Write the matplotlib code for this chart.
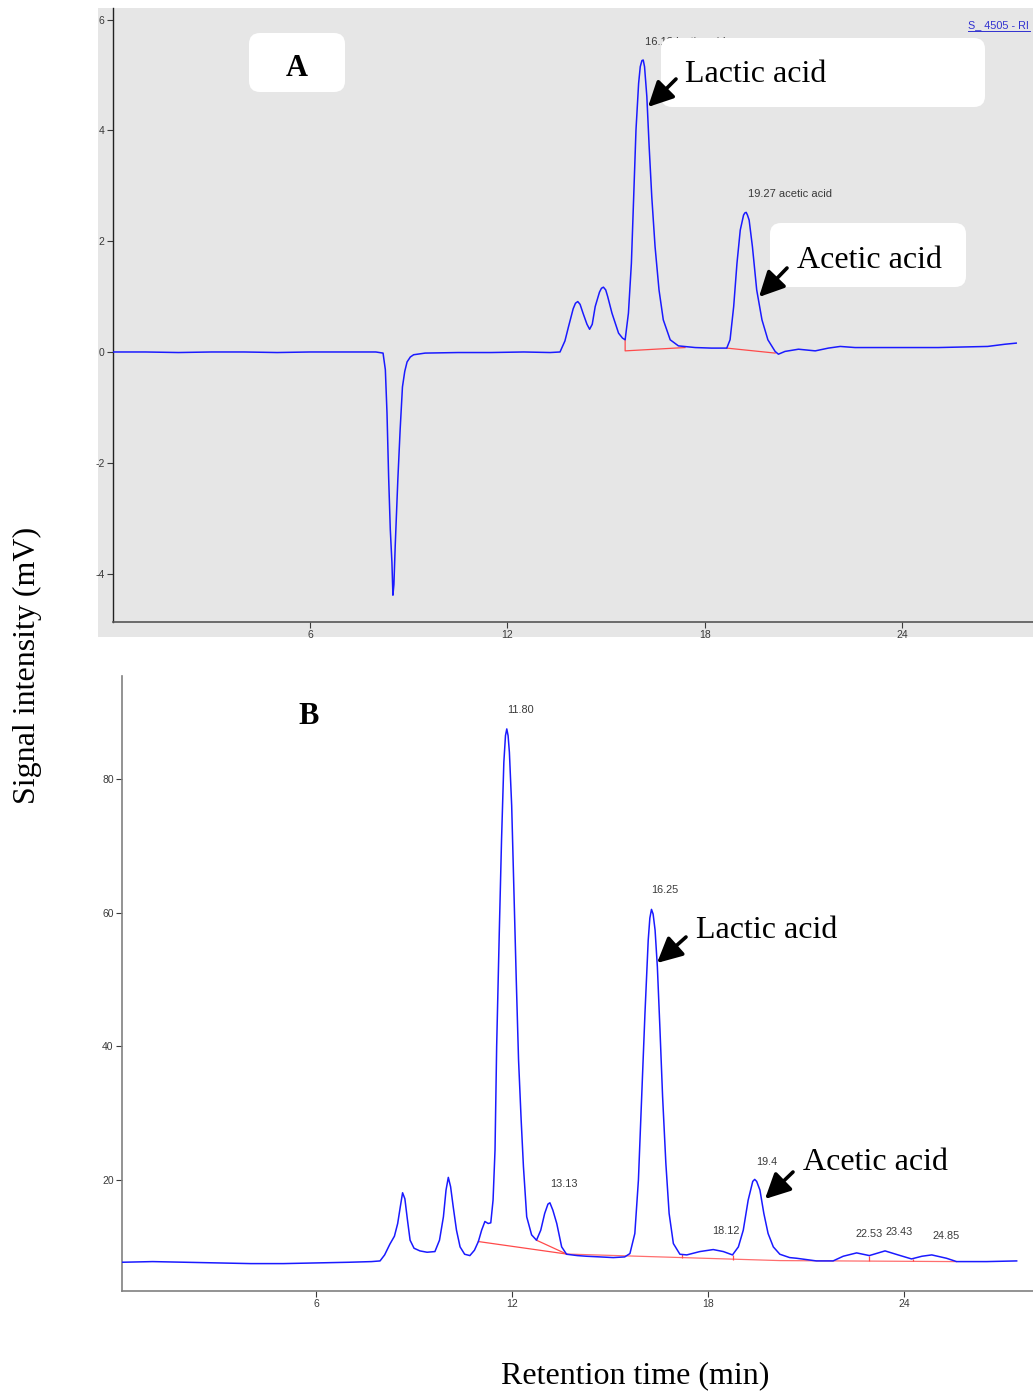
import matplotlib
matplotlib.use('Agg')
import matplotlib.pyplot as plt
from matplotlib.patches import FancyBboxPatch, Rectangle, FancyArrowPatch
from matplotlib.lines import Line2D
from matplotlib.transforms import IdentityTransform

plt.rcParams['axes.unicode_minus'] = False

# ---------------- data ----------------
# Panel A chromatogram: retention time (min) / signal (mV)
a_time = [0.0, 1.0, 2.0, 3.0, 4.0, 5.0, 6.0, 7.0, 8.0, 8.22, 8.29, 8.34, 8.39, 8.44, 8.49,
          8.52, 8.55, 8.59, 8.67, 8.74, 8.81, 8.88, 8.95, 9.05, 9.15, 9.5, 10.5, 11.5,
          12.5, 13.3, 13.6, 13.75, 13.86, 14.0, 14.07, 14.14, 14.21, 14.3, 14.42, 14.5,
          14.58, 14.67, 14.8, 14.86, 14.92, 14.99, 15.05, 15.18, 15.38, 15.5, 15.58,
          15.68, 15.77, 15.84, 15.91, 15.99, 16.04, 16.09, 16.13, 16.17, 16.24, 16.31,
          16.39, 16.49, 16.61, 16.74, 16.95, 17.2, 17.71, 18.2, 18.67, 18.77, 18.88,
          18.98, 19.08, 19.18, 19.22, 19.26, 19.3, 19.35, 19.45, 19.58, 19.74, 19.92,
          20.14, 20.24, 20.44, 20.85, 21.36, 21.76, 22.12, 22.57, 23.59, 25.1, 26.6,
          27.13, 27.47]
a_signal = [0.0, 0.0, -0.01, 0.0, 0.0, -0.01, 0.0, 0.0, 0.0, -0.02, -0.32, -1.1, -2.26,
            -3.2, -3.8, -4.39, -4.2, -3.5, -2.3, -1.4, -0.63, -0.35, -0.18, -0.09, -0.05,
            -0.02, -0.01, -0.01, 0.0, -0.01, 0.0, 0.2, 0.46, 0.78, 0.88, 0.91, 0.86, 0.7,
            0.5, 0.41, 0.5, 0.82, 1.08, 1.15, 1.17, 1.12, 1.0, 0.7, 0.34, 0.25, 0.22, 0.7,
            1.6, 2.8, 4.01, 4.85, 5.15, 5.26, 5.27, 5.15, 4.61, 3.71, 2.8, 1.9, 1.12,
            0.58, 0.22, 0.11, 0.08, 0.07, 0.07, 0.22, 0.82, 1.6, 2.2, 2.47, 2.51, 2.52,
            2.47, 2.38, 1.9, 1.12, 0.58, 0.22, 0.01, -0.04, 0.01, 0.05, 0.02, 0.07, 0.1,
            0.08, 0.08, 0.08, 0.1, 0.14, 0.16]
# Panel A integration baselines
a_base1_time = [15.58, 15.58, 17.4]
a_base1_sig = [0.22, 0.02, 0.08]
a_base2_time = [18.67, 20.14]
a_base2_sig = [0.07, -0.02]

# Panel B chromatogram
b_time = [0.05, 1.0, 2.0, 3.0, 4.0, 5.0, 6.0, 7.0, 7.7, 7.96, 8.1, 8.26, 8.4, 8.5, 8.58,
          8.65, 8.72, 8.8, 8.88, 9.0, 9.18, 9.4, 9.64, 9.78, 9.9, 9.98, 10.05, 10.12,
          10.2, 10.3, 10.41, 10.55, 10.71, 10.85, 10.97, 11.07, 11.17, 11.27, 11.35,
          11.42, 11.48, 11.53, 11.61, 11.68, 11.75, 11.8, 11.84, 11.88, 11.92, 11.99,
          12.06, 12.13, 12.2, 12.28, 12.35, 12.45, 12.6, 12.75, 12.88, 13.0, 13.1,
          13.16, 13.25, 13.37, 13.52, 13.67, 14.0, 14.28, 14.7, 15.1, 15.45, 15.61,
          15.76, 15.87, 15.97, 16.07, 16.17, 16.22, 16.27, 16.32, 16.38, 16.45, 16.53,
          16.61, 16.71, 16.81, 16.94, 17.14, 17.35, 17.75, 18.16, 18.47, 18.75, 18.93,
          19.08, 19.23, 19.37, 19.43, 19.49, 19.59, 19.71, 19.84, 20.0, 20.2, 20.5,
          20.71, 21.32, 21.83, 22.14, 22.55, 22.94, 23.42, 23.82, 24.23, 24.55, 24.85,
          25.3, 25.61, 26.53, 27.45]
b_signal = [7.7, 7.8, 7.7, 7.6, 7.5, 7.5, 7.6, 7.7, 7.8, 7.9, 8.8, 10.4, 11.6, 13.5, 16.0,
            18.1, 17.2, 14.0, 11.0, 9.8, 9.4, 9.2, 9.3, 11.0, 14.5, 18.5, 20.4, 19.0,
            16.0, 12.5, 10.0, 8.9, 8.7, 9.5, 10.8, 12.5, 13.8, 13.5, 13.6, 17.0, 24.5,
            40.0, 57.0, 71.0, 82.5, 86.5, 87.5, 86.5, 84.0, 76.0, 63.0, 50.0, 38.0, 29.0,
            22.0, 14.5, 11.8, 11.0, 12.5, 15.0, 16.4, 16.6, 15.5, 13.5, 10.0, 8.9, 8.7,
            8.6, 8.5, 8.4, 8.5, 9.0, 12.0, 20.0, 32.5, 44.9, 55.9, 59.2, 60.5, 59.8, 57.4,
            51.9, 42.5, 32.5, 22.5, 15.0, 10.5, 8.9, 8.8, 9.3, 9.6, 9.3, 8.8, 10.0, 12.5,
            17.0, 19.8, 20.1, 19.8, 18.5, 15.0, 12.0, 10.0, 8.9, 8.4, 8.3, 7.9, 7.9, 8.6,
            9.1, 8.7, 9.4, 8.8, 8.2, 8.6, 8.8, 8.3, 7.8, 7.8, 7.9]
# Panel B integration baselines
b_base1_time = [10.97, 13.67]
b_base1_sig = [10.8, 8.93]
b_base2_time = [12.75, 13.67]
b_base2_sig = [11.0, 8.93]
b_base3_time = [13.67, 20.2, 25.6]
b_base3_sig = [8.93, 7.95, 7.8]
b_drop_time = [17.2, 18.76, 22.93, 24.28]
b_drop_low = [8.35, 8.05, 7.85, 7.82]
b_drop_high = [8.9, 8.8, 8.7, 8.2]

a_yticks = [-4, -2, 0, 2, 4, 6]
b_yticks = [20, 40, 60, 80]
x_ticks = [6, 12, 18, 24]

b_peak_labels = ['11.80', '16.25', '13.13', '18.12', '19.4', '22.53', '23.43', '24.85']

# ---------------- figure ----------------
W, H = 1033, 1392
fig = plt.figure(figsize=(W / 100, H / 100), dpi=100)
ID = IdentityTransform()


def fx(x):
    return x / W


def fy(y):
    return 1 - y / H


def px(x, y):
    return (x, H - y)


BLUE = '#1a1aff'
RED = '#ff4a4a'
TICKC = '#3a3a3a'
SANS = 'Liberation Sans'
SERIF = 'Liberation Serif'

# gray panel background of A
fig.add_artist(Rectangle(px(98, 637), 1033 - 98, 637 - 8, transform=ID,
                         facecolor='#e6e6e6', edgecolor='none', zorder=-5))

# ---- Axes A
axA = fig.add_axes([fx(113), fy(622), fx(1033) - fx(113), fy(8) - fy(622)])
axA.set_facecolor('none')
axA.plot(a_time, a_signal, color=BLUE, lw=1.1, zorder=3)
axA.plot(a_base1_time, a_base1_sig, color=RED, lw=0.9, zorder=2)
axA.plot(a_base2_time, a_base2_sig, color=RED, lw=0.9, zorder=2)
axA.set_xlim(0.01, 27.98)
axA.set_ylim(-4.874, 6.209)
axA.set_yticks(a_yticks)
axA.set_yticklabels([str(v) for v in a_yticks])
axA.set_xticks(x_ticks)
axA.set_xticklabels([str(v) for v in x_ticks])
for s in ['top', 'right']:
    axA.spines[s].set_visible(False)
axA.spines['left'].set_color('#222222')
axA.spines['bottom'].set_color('#555555')
axA.spines['left'].set_linewidth(1.0)
axA.spines['bottom'].set_linewidth(1.2)
axA.tick_params(direction='out', length=4, width=0.8, colors=TICKC, labelsize=7.5, pad=2)
for lab in axA.get_xticklabels() + axA.get_yticklabels():
    lab.set_fontfamily(SANS)

# ---- Axes B
axB = fig.add_axes([fx(122), fy(1291), fx(1033) - fx(122), fy(676) - fy(1291)])
axB.set_facecolor('none')
axB.plot(b_time, b_signal, color=BLUE, lw=1.1, zorder=3)
axB.plot(b_base1_time, b_base1_sig, color=RED, lw=0.9, zorder=2)
axB.plot(b_base2_time, b_base2_sig, color=RED, lw=0.9, zorder=2)
axB.plot(b_base3_time, b_base3_sig, color=RED, lw=0.9, alpha=0.8, zorder=2)
axB.vlines(b_drop_time, b_drop_low, b_drop_high, color=RED, lw=0.9, zorder=2)
axB.set_xlim(0.06, 27.95)
axB.set_ylim(3.40, 95.42)
axB.set_yticks(b_yticks)
axB.set_yticklabels([str(v) for v in b_yticks])
axB.set_xticks(x_ticks)
axB.set_xticklabels([str(v) for v in x_ticks])
for s in ['top', 'right']:
    axB.spines[s].set_visible(False)
axB.spines['left'].set_color('#808080')
axB.spines['bottom'].set_color('#808080')
axB.spines['left'].set_linewidth(1.2)
axB.spines['bottom'].set_linewidth(1.2)
axB.tick_params(direction='out', length=4, width=0.8, colors=TICKC, labelsize=7.5, pad=2)
for lab in axB.get_xticklabels() + axB.get_yticklabels():
    lab.set_fontfamily(SANS)

# ---- peak labels (small, under the callout boxes)
fig.text(fx(645), fy(42), '16.13 lactic acid', fontsize=8, family=SANS, color=TICKC,
         ha='left', va='center', zorder=2)
fig.text(fx(748), fy(194), '19.27 acetic acid', fontsize=8, family=SANS, color=TICKC,
         ha='left', va='center', zorder=2)
b_label_pos = [(520, 710), (665, 890), (564, 1184), (726, 1231), (767, 1162),
               (869, 1234), (899, 1232), (946, 1236)]
for txt, (x, y) in zip(b_peak_labels, b_label_pos):
    fig.text(fx(x), fy(y), txt, fontsize=7.8, family=SANS, color=TICKC,
             ha='center', va='center', zorder=2)

# "S_ 4505 - RI" link-like tag
fig.text(fx(968), fy(25), 'S_ 4505 - RI', fontsize=7.8, family=SANS, color='#3030d0',
         ha='left', va='center', zorder=2)
fig.add_artist(Line2D([968, 1030], [H - 31, H - 31], transform=ID, color='#3030d0', lw=0.7))


# ---- rounded white callout boxes
def rbox(x0, y0, x1, y1):
    fig.add_artist(FancyBboxPatch(px(x0, y1), x1 - x0, y1 - y0,
                                  boxstyle='round,pad=0,rounding_size=11',
                                  transform=ID, facecolor='white', edgecolor='none',
                                  zorder=4))


rbox(249, 33, 345, 92)
rbox(661, 38, 985, 107)
rbox(770, 223, 966, 287)

# ---- big texts
fig.text(fx(297), fy(68), 'A', fontsize=22, family=SERIF, weight='bold', ha='center',
         va='center', zorder=5)
fig.text(fx(309), fy(717), 'B', fontsize=22, family=SERIF, weight='bold', ha='center',
         va='center', zorder=5)
fig.text(fx(685), fy(75), 'Lactic acid', fontsize=23, family=SERIF, ha='left', va='center',
         zorder=5)
fig.text(fx(797), fy(260), 'Acetic acid', fontsize=23, family=SERIF, ha='left', va='center',
         zorder=5)
fig.text(fx(696), fy(930), 'Lactic acid', fontsize=23, family=SERIF, ha='left', va='center',
         zorder=5)
fig.text(fx(803), fy(1163), 'Acetic acid', fontsize=23, family=SERIF, ha='left', va='center',
         zorder=5)

fig.text(fx(27), fy(665), 'Signal intensity (mV)', fontsize=23, family=SERIF,
         rotation=90, ha='center', va='center')
fig.text(fx(635), fy(1376), 'Retention time (min)', fontsize=23, family=SERIF,
         ha='center', va='center')


# ---- arrows
def arrow(x0, y0, x1, y1):
    fig.add_artist(FancyArrowPatch(px(x0, y0), px(x1, y1), transform=ID,
                                   arrowstyle='-|>,head_length=0.4,head_width=0.2',
                                   mutation_scale=38, lw=2.6, color='black',
                                   shrinkA=0, shrinkB=0, zorder=6))


arrow(676, 79, 648, 107)
arrow(787, 268, 759, 297)
arrow(686, 937, 657, 963)
arrow(793, 1172, 765, 1199)

fig.savefig('out.png', dpi=100)
